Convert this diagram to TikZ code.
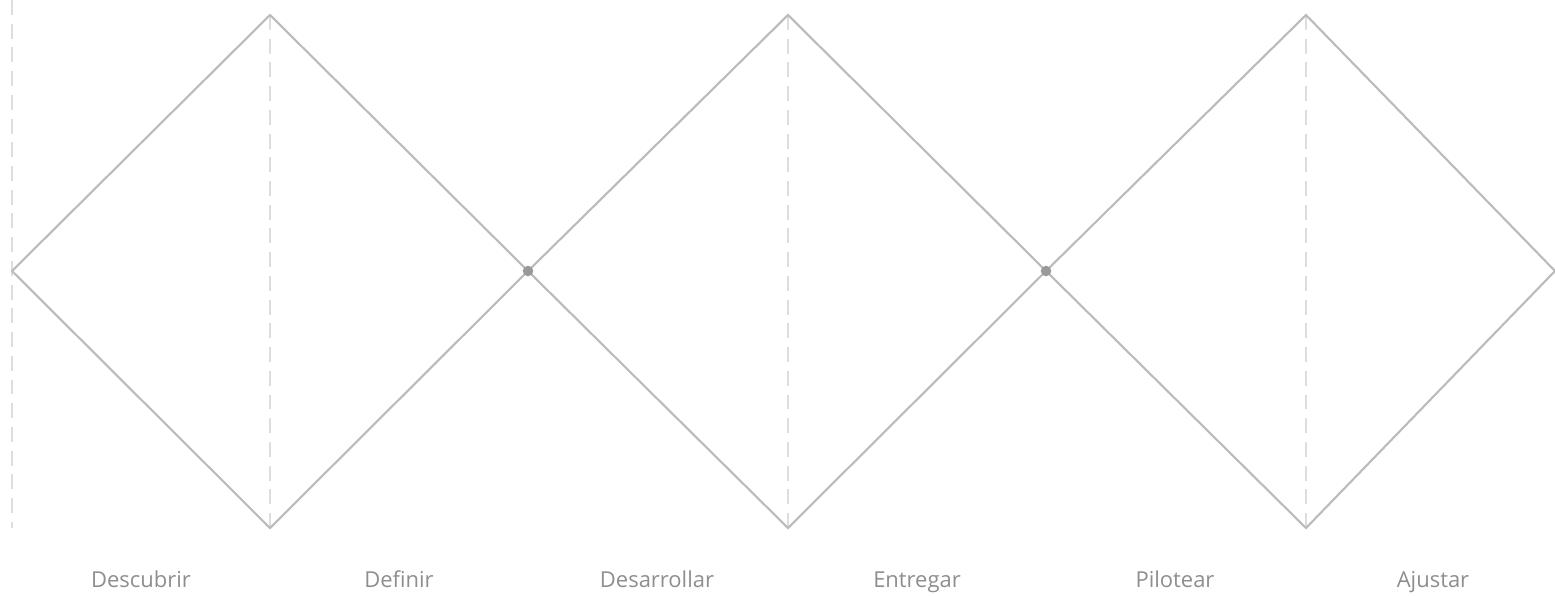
\documentclass[tikz,border=0pt]{standalone}
\usepackage{fontspec}
\setmainfont{Open Sans}
\definecolor{linegray}{HTML}{BBBBBB}
\definecolor{guidegray}{HTML}{DDDDDD}
\definecolor{dotgray}{HTML}{999999}
\definecolor{labelgray}{HTML}{8E8E8E}
\begin{document}
\begin{tikzpicture}[x=0.02cm,y=-0.02cm,
  edge/.style={draw=linegray,line width=1.2pt,line join=miter},
  guide/.style={draw=guidegray,line width=0.6pt,dash pattern=on 8.5pt off 5pt},
  joint/.style={circle,fill=dotgray,inner sep=0pt,minimum size=6pt},
  phase/.style={anchor=base,font=\fontsize{12.5}{15}\selectfont,text=labelgray}]
\useasboundingbox (0,0) rectangle (1555,595);
% vertices of the three diamonds
\coordinate (L1) at (12,271);   \coordinate (T1) at (270,15);  \coordinate (B1) at (270,528);
\coordinate (L2) at (528,271);  \coordinate (T2) at (788,15);  \coordinate (B2) at (788,528);
\coordinate (L3) at (1046,271); \coordinate (T3) at (1306,15); \coordinate (B3) at (1306,528);
\coordinate (R3) at (1555,271);
\coordinate (G0) at (12,0);     \coordinate (H0) at (12,528);
% guide lines
\draw[guide] (G0) -- (H0);
\draw[guide] (T1) -- (B1);
\draw[guide] (T2) -- (B2);
\draw[guide] (T3) -- (B3);
% diamonds
\draw[edge] (L1) -- (T1) -- (L2) -- (B1) -- cycle;
\draw[edge] (L2) -- (T2) -- (L3) -- (B2) -- cycle;
\draw[edge] (L3) -- (T3) -- (R3) -- (B3) -- cycle;
\node[joint] (J1) at (L2) {};
\node[joint] (J2) at (L3) {};
% phases
\node[phase] (P1) at (141,587)  {Descubrir};
\node[phase] (P2) at (399,587)  {Definir};
\node[phase] (P3) at (657,587)  {Desarrollar};
\node[phase] (P4) at (917,587)  {Entregar};
\node[phase] (P5) at (1175,587) {Pilotear};
\node[phase] (P6) at (1433,587) {Ajustar};
\end{tikzpicture}
\end{document}
